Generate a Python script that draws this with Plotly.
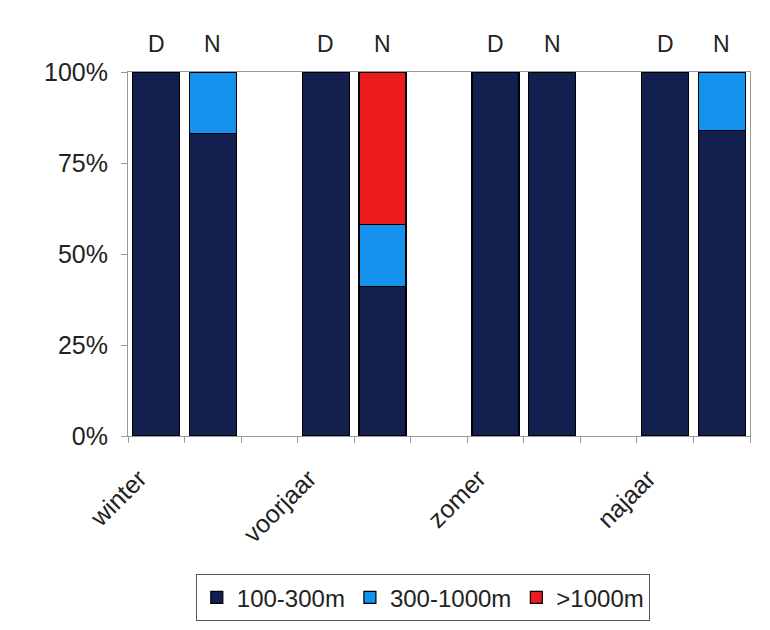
import plotly.graph_objects as go

seasons = ["winter", "voorjaar", "zomer", "najaar"]
periods = ["D", "N"]
# order: winter D, winter N, voorjaar D, voorjaar N, zomer D, zomer N, najaar D, najaar N
s_100_300 = [100, 83, 100, 41, 100, 100, 100, 84]
s_300_1000 = [0, 17, 0, 17, 0, 0, 0, 16]
s_1000 = [0, 0, 0, 42, 0, 0, 0, 0]
series_names = ["100-300m", "300-1000m", ">1000m"]
colors = ["#13204f", "#1591ee", "#ec1c1c"]

# x position: 3 slots per season (D, N, gap)
xpos = [3 * si + pi for si in range(len(seasons)) for pi in range(len(periods))]
plabels = [p for _ in seasons for p in periods]

fig = go.Figure()
for name, vals, col in zip(series_names, [s_100_300, s_300_1000, s_1000], colors):
    fig.add_trace(go.Bar(
        x=xpos, y=vals, name=name,
        marker=dict(color=col, line=dict(color="#000000", width=1.2)),
        width=0.83,
    ))

for x, lab in zip(xpos, plabels):
    fig.add_annotation(x=x, y=1.035, xref="x", yref="paper", text=lab,
                       showarrow=False, yanchor="bottom",
                       font=dict(size=23, color="#222222"))

fig.update_layout(
    width=770, height=630,
    barmode="stack",
    margin=dict(l=120, r=28, t=64, b=202),
    paper_bgcolor="white", plot_bgcolor="white",
    font=dict(family="Liberation Sans, Arial, sans-serif", size=25, color="#222222"),
    showlegend=True,
    legend=dict(orientation="h", x=0.474, xanchor="center", y=-0.38, yanchor="top",
                bordercolor="#555555", borderwidth=1, font=dict(size=24),
                tracegroupgap=0, traceorder="normal"),
    xaxis=dict(
        range=[-0.5, 10.5],
        tickvals=[3 * i - 0.3 for i in range(len(seasons))],
        ticktext=seasons, tickangle=-45, ticks="",
        ticklabelstandoff=17,
        showgrid=False, zeroline=False,
        showline=True, linecolor="#999999", linewidth=1, mirror=True,
        minor=dict(tick0=-0.5, dtick=1, ticks="outside", ticklen=6, tickcolor="#999999", showgrid=False),
    ),
    yaxis=dict(
        range=[0, 100], tickvals=[0, 25, 50, 75, 100],
        ticktext=["0%", "25%", "50%", "75%", "100%"],
        ticks="outside", ticklen=6, tickcolor="#999999",
        ticklabelstandoff=8,
        showgrid=False, zeroline=False,
        showline=True, linecolor="#999999", linewidth=1, mirror=True,
    ),
)
fig.write_html("out.html")
